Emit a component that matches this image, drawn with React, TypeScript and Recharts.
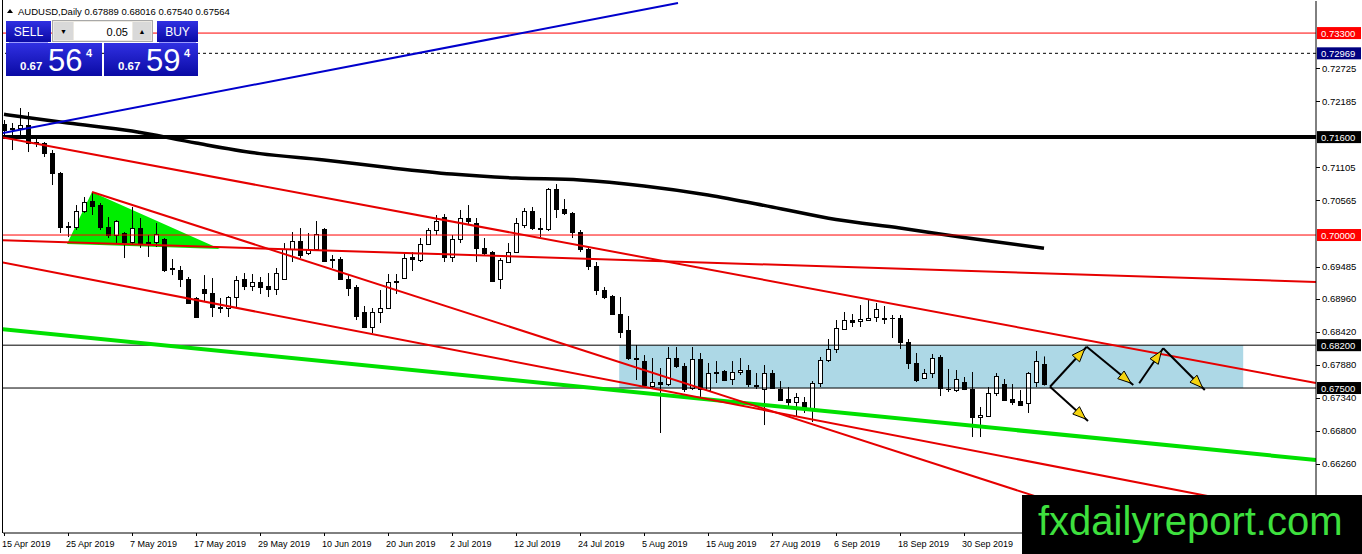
import React from 'react';
import { ComposedChart, XAxis, YAxis, Bar, Line, Area, ReferenceLine, ReferenceArea } from 'recharts';

// AUDUSD daily candles (bar 0 = 15 Apr 2019)
const opens = [
  0.71814, 0.71732, 0.71748, 0.71797, 0.71503, 0.71503, 0.71340, 0.71013, 0.70131, 0.70131,
  0.70392, 0.70556, 0.70490, 0.70131, 0.70000, 0.70033, 0.69886, 0.70114, 0.69869, 0.69886,
  0.69935, 0.69445, 0.69428, 0.69281, 0.68971, 0.69118, 0.69052, 0.68824, 0.68807, 0.68987,
  0.69281, 0.69167, 0.69232, 0.69167, 0.69118, 0.69281, 0.69771, 0.69902, 0.69706, 0.69771,
  0.70098, 0.69608, 0.69608, 0.69281, 0.69150, 0.68742, 0.68497, 0.68742, 0.68807, 0.69248,
  0.69297, 0.69641, 0.69592, 0.69853, 0.70082, 0.70294, 0.69641, 0.69935, 0.70278, 0.70196,
  0.69788, 0.69722, 0.69281, 0.69559, 0.69722, 0.70163, 0.70392, 0.70114, 0.70098, 0.70752,
  0.70425, 0.70360, 0.70049, 0.69771, 0.69494, 0.69101, 0.69003, 0.68709, 0.68448, 0.67990,
  0.67941, 0.67533, 0.67598, 0.67565, 0.67990, 0.67860, 0.67500, 0.67974, 0.67467, 0.67762,
  0.67778, 0.67647, 0.67762, 0.67794, 0.67549, 0.67484, 0.67745, 0.67484, 0.67320, 0.67271,
  0.67271, 0.67157, 0.67582, 0.67958, 0.68137, 0.68464, 0.68611, 0.68595, 0.68611, 0.68660,
  0.68644, 0.68644, 0.68644, 0.68252, 0.67909, 0.67663, 0.67745, 0.68007, 0.67484, 0.67467,
  0.67598, 0.67484, 0.67026, 0.67043, 0.67418, 0.67565, 0.67320, 0.67288, 0.67255, 0.67598,
  0.67889,
];
const highs = [
  0.71879, 0.71830, 0.72075, 0.72010, 0.71585, 0.71520, 0.71389, 0.71030, 0.70213, 0.70490,
  0.70621, 0.70686, 0.70523, 0.70294, 0.70245, 0.70049, 0.70458, 0.70278, 0.70000, 0.70196,
  0.69951, 0.69608, 0.69494, 0.69314, 0.68987, 0.69346, 0.69297, 0.68971, 0.69003, 0.69330,
  0.69379, 0.69363, 0.69314, 0.69379, 0.69461, 0.69869, 0.70049, 0.70114, 0.70033, 0.70229,
  0.70114, 0.69673, 0.69641, 0.69346, 0.69183, 0.68840, 0.68807, 0.69101, 0.69363, 0.69363,
  0.69690, 0.69722, 0.69951, 0.70114, 0.70327, 0.70343, 0.70000, 0.70409, 0.70490, 0.70278,
  0.69951, 0.69739, 0.69624, 0.69869, 0.70278, 0.70441, 0.70458, 0.70278, 0.70768, 0.70833,
  0.70588, 0.70376, 0.70082, 0.69804, 0.69559, 0.69150, 0.69020, 0.68987, 0.68677, 0.68203,
  0.68039, 0.67990, 0.67827, 0.68170, 0.68170, 0.67909, 0.68170, 0.68072, 0.67909, 0.67941,
  0.67794, 0.67941, 0.67990, 0.67876, 0.67745, 0.67876, 0.67794, 0.67614, 0.67516, 0.67418,
  0.67353, 0.67614, 0.68007, 0.68301, 0.68611, 0.68742, 0.68709, 0.68856, 0.68938, 0.68889,
  0.68840, 0.68693, 0.68693, 0.68301, 0.68072, 0.67811, 0.68056, 0.68039, 0.67811, 0.67794,
  0.67680, 0.67762, 0.67190, 0.67516, 0.67745, 0.67647, 0.67565, 0.67467, 0.67762, 0.68105,
  0.68016,
];
const lows = [
  0.71634, 0.71389, 0.71585, 0.71356, 0.71438, 0.71275, 0.70817, 0.70033, 0.69967, 0.70082,
  0.70360, 0.70327, 0.70082, 0.69951, 0.69869, 0.69624, 0.69837, 0.69788, 0.69641, 0.69804,
  0.69396, 0.69346, 0.69150, 0.68873, 0.68644, 0.68905, 0.68660, 0.68726, 0.68660, 0.68824,
  0.69101, 0.69085, 0.69036, 0.68987, 0.69020, 0.69265, 0.69559, 0.69624, 0.69673, 0.69755,
  0.69559, 0.69461, 0.69265, 0.69003, 0.68611, 0.68480, 0.68399, 0.68562, 0.68791, 0.69036,
  0.69281, 0.69412, 0.69559, 0.69837, 0.70000, 0.69559, 0.69559, 0.69869, 0.70163, 0.69559,
  0.69673, 0.69232, 0.69118, 0.69543, 0.69706, 0.70114, 0.70082, 0.69967, 0.70065, 0.70278,
  0.70327, 0.69951, 0.69722, 0.69428, 0.69020, 0.68954, 0.68693, 0.68317, 0.67958, 0.67631,
  0.67533, 0.67500, 0.66765, 0.67533, 0.67827, 0.67435, 0.67467, 0.67353, 0.67451, 0.67582,
  0.67614, 0.67549, 0.67712, 0.67516, 0.67484, 0.66895, 0.67484, 0.67288, 0.67206, 0.67043,
  0.67092, 0.66945, 0.67516, 0.67925, 0.68072, 0.68448, 0.68497, 0.68497, 0.68595, 0.68579,
  0.68546, 0.68317, 0.68137, 0.67811, 0.67598, 0.67647, 0.67663, 0.67369, 0.67435, 0.67435,
  0.67467, 0.66699, 0.66699, 0.67026, 0.67369, 0.67288, 0.67222, 0.67206, 0.67092, 0.67516,
  0.67540,
];
const closes = [
  0.71716, 0.71748, 0.71797, 0.71503, 0.71520, 0.71340, 0.71013, 0.70131, 0.70147, 0.70392,
  0.70539, 0.70474, 0.70131, 0.70000, 0.70229, 0.69886, 0.70114, 0.69869, 0.69886, 0.70016,
  0.69428, 0.69461, 0.69281, 0.68889, 0.68660, 0.69052, 0.68824, 0.68807, 0.68987, 0.69265,
  0.69167, 0.69232, 0.69150, 0.69118, 0.69379, 0.69771, 0.69902, 0.69673, 0.69771, 0.70016,
  0.69575, 0.69592, 0.69281, 0.69134, 0.68677, 0.68497, 0.68742, 0.68807, 0.69232, 0.69232,
  0.69624, 0.69608, 0.69853, 0.70082, 0.70229, 0.69641, 0.69935, 0.70278, 0.70229, 0.69788,
  0.69706, 0.69248, 0.69592, 0.69722, 0.70196, 0.70392, 0.70114, 0.70098, 0.70752, 0.70425,
  0.70360, 0.70049, 0.69771, 0.69494, 0.69101, 0.68987, 0.68709, 0.68415, 0.67990, 0.67974,
  0.67549, 0.67598, 0.67565, 0.67990, 0.67860, 0.67484, 0.67974, 0.67484, 0.67745, 0.67745,
  0.67631, 0.67762, 0.67794, 0.67565, 0.67541, 0.67745, 0.67500, 0.67304, 0.67271, 0.67353,
  0.67190, 0.67582, 0.67958, 0.68137, 0.68480, 0.68611, 0.68579, 0.68628, 0.68644, 0.68791,
  0.68628, 0.68636, 0.68252, 0.67909, 0.67631, 0.67745, 0.67990, 0.67500, 0.67476, 0.67647,
  0.67484, 0.67026, 0.67059, 0.67418, 0.67696, 0.67304, 0.67271, 0.67222, 0.67745, 0.67941,
  0.67564,
];

// 200-period moving average, sampled at these bars
const maIdx = [0, 8, 16, 24, 32, 40, 48, 56, 64, 72, 80, 88, 96, 104, 112, 120, 130];
const maVals = [
  0.71972, 0.71830, 0.71699, 0.71503, 0.71330, 0.71226, 0.71103, 0.70997, 0.70931,
  0.70899, 0.70801, 0.70654, 0.70458, 0.70253, 0.70114, 0.69959, 0.69783,
];

const dateTickIdx = [0, 8, 16, 24, 32, 40, 48, 56, 64, 72, 80, 88, 96, 104, 112, 120];
const dateLabels = [
  '15 Apr 2019', '25 Apr 2019', '7 May 2019', '17 May 2019', '29 May 2019', '10 Jun 2019',
  '20 Jun 2019', '2 Jul 2019', '12 Jul 2019', '24 Jul 2019', '5 Aug 2019', '15 Aug 2019',
  '27 Aug 2019', '6 Sep 2019', '18 Sep 2019', '30 Sep 2019',
];

const priceTicks = [0.72725, 0.72185, 0.71105, 0.70565, 0.69485, 0.6896, 0.6842, 0.6788, 0.6734, 0.668, 0.6626];
const levelPrices = [0.733, 0.72969, 0.716, 0.7, 0.682, 0.675];

// drawn objects, endpoints as [bar index, price]
const channelUpper = [[-0.5, 0.71601], [164, 0.67582]];
const channelFlat = [[-0.5, 0.69918], [164, 0.69232]];
const channelLower = [[-0.5, 0.69559], [164, 0.65392]];
const steepLine = [[11, 0.70703], [137, 0.65392]];
const greenLine = [[-0.5, 0.68464], [164, 0.66324]];
const blueLine = [[-0.125, 0.71667], [84.25, 0.73791]];
const triangle = [[7.875, 0.69853, 0.69853], [11, 0.6984, 0.70703], [27, 0.69771, 0.69771]];
const rangeBox = { x1: 76.9, x2: 154.9, y1: 0.675, y2: 0.682 };
const arrows = [
  [[130.75, 0.6752], [135.34, 0.68175]],
  [[135.34, 0.68175], [141.16, 0.67549]],
  [[141.9, 0.67577], [144.9, 0.68149]],
  [[144.9, 0.68149], [150.1, 0.67467]],
  [[130.75, 0.6752], [135.5, 0.6696]],
];

const candles = opens.map((o, i) => ({ i, o, h: highs[i], l: lows[i], c: closes[i] }));
const maRows = maIdx.map((i, k) => ({ i, ma: maVals[k] }));
const triRows = triangle.map(([i, lo, hi]) => ({ i, tri: [lo, hi] }));

const levelColor: Record<string, string> = {
  '0.73300': '#ff0000',
  '0.72969': '#000080',
  '0.71600': '#000000',
  '0.70000': '#ff0000',
  '0.68200': '#000000',
  '0.67500': '#000000',
};

const FONT = '"Liberation Sans", Arial, sans-serif';

const seg = (s: number[][]) => [{ x: s[0][0], y: s[0][1] }, { x: s[1][0], y: s[1][1] }];

const Candle = (props: any) => {
  const { x, y, width, height, payload } = props;
  if (!payload || x == null) return null;
  const top = Math.min(y, y + height);
  const bot = Math.max(y, y + height);
  const { o, h, l, c } = payload;
  const py = (p: number) => (h === l ? top : top + ((h - p) / (h - l)) * (bot - top));
  const cx = Math.round(x + width / 2);
  const yo = py(o);
  const yc = py(c);
  const bTop = Math.round(Math.min(yo, yc));
  const bBot = Math.round(Math.max(yo, yc));
  const wick = <line x1={cx + 0.5} x2={cx + 0.5} y1={top} y2={bot} stroke="#000" strokeWidth={1} />;
  if (bBot - bTop < 1) {
    return (
      <g>
        {wick}
        <line x1={cx - 2} x2={cx + 3} y1={bTop + 0.5} y2={bTop + 0.5} stroke="#000" />
      </g>
    );
  }
  if (c >= o) {
    return (
      <g>
        {wick}
        <rect x={cx - 1.5} y={bTop + 0.5} width={4} height={bBot - bTop} fill="#fff" stroke="#000" strokeWidth={1} />
      </g>
    );
  }
  return (
    <g>
      {wick}
      <rect x={cx - 2} y={bTop} width={5} height={bBot - bTop + 1} fill="#000" />
    </g>
  );
};

const ArrowShape = (props: any) => {
  const { x1, y1, x2, y2 } = props;
  if (x1 == null) return null;
  const a = Math.atan2(y2 - y1, x2 - x1);
  const cos = Math.cos(a);
  const sin = Math.sin(a);
  const tx = x2 - 3 * cos;
  const ty = y2 - 3 * sin;
  const bx = tx - 13 * cos;
  const by = ty - 13 * sin;
  const pts = `${tx},${ty} ${bx + 5 * sin},${by - 5 * cos} ${bx - 5 * sin},${by + 5 * cos}`;
  return (
    <g>
      <line x1={x1} y1={y1} x2={x2} y2={y2} stroke="#000" strokeWidth={2} />
      <polygon points={pts} fill="#f5d40f" stroke="#000" strokeWidth={1} />
    </g>
  );
};

const PriceTick = (props: any) => {
  const { x, y, payload } = props;
  const label = Number(payload.value).toFixed(5);
  const bg = levelColor[label];
  if (bg) {
    return (
      <g>
        <rect x={x + 1} y={y - 6} width={44} height={12} fill={bg} />
        <text x={x + 5} y={y + 3.5} fill="#fff" fontSize={9.5} fontFamily={FONT}>{label}</text>
      </g>
    );
  }
  return (
    <g>
      <line x1={x} x2={x + 4} y1={Math.round(y) + 0.5} y2={Math.round(y) + 0.5} stroke="#000" />
      <text x={x + 6} y={y + 3.5} fill="#000" fontSize={9.5} fontFamily={FONT}>{label}</text>
    </g>
  );
};

const DateTick = (props: any) => {
  const { x, y, payload } = props;
  const k = dateTickIdx.indexOf(payload.value);
  return (
    <g>
      <line x1={x + 0.5} x2={x + 0.5} y1={y} y2={y + 3} stroke="#000" />
      <text x={x - 2} y={y + 14} fill="#000" fontSize={9} fontFamily={FONT}>{dateLabels[k]}</text>
    </g>
  );
};

const Overlay = () => (
  <svg width={1362} height={554} style={{ position: 'absolute', left: 0, top: 0, pointerEvents: 'none' }}>
    <defs>
      <linearGradient id="btn" x1="0" y1="0" x2="0" y2="1">
        <stop offset="0%" stopColor="#3030e2" />
        <stop offset="100%" stopColor="#0a0aa4" />
      </linearGradient>
    </defs>
    <line x1={2.5} x2={2.5} y1={0} y2={533} stroke="#000" />
    <polygon points="7,13 10,9 13,13" fill="#000" />
    <text x={18} y={15} fontSize={9.5} fontFamily={FONT} fill="#000">
      AUDUSD,Daily  0.67889 0.68016 0.67540 0.67564
    </text>
    {/* one-click trading panel */}
    <rect x={6} y={21} width={45} height={21} fill="url(#btn)" />
    <text x={28.5} y={36} fontSize={12} fontFamily={FONT} fill="#fff" textAnchor="middle">SELL</text>
    <line x1={9} x2={48} y1={42.5} y2={42.5} stroke="#9c9cff" />
    <rect x={6} y={43} width={96} height={33} fill="url(#btn)" />
    <text x={20} y={70} fontSize={11.5} fontWeight="bold" fontFamily={FONT} fill="#fff">0.67</text>
    <text x={48} y={71} fontSize={31} fontFamily={FONT} fill="#fff">56</text>
    <text x={86} y={57} fontSize={11} fontWeight="bold" fontFamily={FONT} fill="#fff">4</text>
    <rect x={52.5} y={20.5} width={100} height={21} fill="#ece9e2" stroke="#a8a8a8" />
    <rect x={54} y={22} width={19} height={18} fill="#d9d9d9" />
    <text x={63.5} y={34} fontSize={7} fontFamily={FONT} fill="#000" textAnchor="middle">▼</text>
    <rect x={74} y={22} width={58} height={18} fill="#fff" />
    <text x={128} y={36} fontSize={11} fontFamily={FONT} fill="#000" textAnchor="end">0.05</text>
    <rect x={133} y={22} width={18} height={18} fill="#d9d9d9" />
    <text x={142} y={34} fontSize={7} fontFamily={FONT} fill="#000" textAnchor="middle">▲</text>
    <rect x={157} y={21} width={41} height={21} fill="url(#btn)" />
    <text x={177.5} y={36} fontSize={12} fontFamily={FONT} fill="#fff" textAnchor="middle">BUY</text>
    <line x1={159} x2={196} y1={42.5} y2={42.5} stroke="#9c9cff" />
    <rect x={104} y={43} width={94} height={33} fill="url(#btn)" />
    <text x={118} y={70} fontSize={11.5} fontWeight="bold" fontFamily={FONT} fill="#fff">0.67</text>
    <text x={146} y={71} fontSize={31} fontFamily={FONT} fill="#fff">59</text>
    <text x={184} y={57} fontSize={11} fontWeight="bold" fontFamily={FONT} fill="#fff">4</text>
    {/* watermark */}
    <rect x={1022} y={495} width={340} height={59} fill="#000" />
    <text x={1038} y={535} fontSize={40} fontFamily={FONT} fill="#3ee03e">fxdailyreport.com</text>
  </svg>
);

export default function App() {
  return (
    <div style={{ position: 'fixed', left: 0, top: 0, width: 1362, height: 554, background: '#fff' }}>
      <ComposedChart
        width={1362}
        height={554}
        data={candles}
        margin={{ top: 1, right: 0, bottom: 0, left: 3 }}
      >
        <XAxis
          dataKey="i"
          type="number"
          domain={[-0.125, 164]}
          allowDataOverflow
          ticks={dateTickIdx}
          interval={0}
          height={21}
          tickSize={0}
          tickMargin={0}
          tickLine={false}
          axisLine={{ stroke: '#000' }}
          tick={<DateTick />}
        />
        <YAxis
          orientation="right"
          type="number"
          domain={[0.65131, 0.73824]}
          allowDataOverflow
          ticks={[...priceTicks, ...levelPrices]}
          interval={0}
          width={46}
          tickSize={0}
          tickMargin={0}
          tickLine={false}
          axisLine={{ stroke: '#000' }}
          tick={<PriceTick />}
        />
        <ReferenceArea
          x1={rangeBox.x1}
          x2={rangeBox.x2}
          y1={rangeBox.y1}
          y2={rangeBox.y2}
          fill="#add8e6"
          fillOpacity={1}
          stroke="none"
          ifOverflow="hidden"
        />
        <Area
          data={triRows}
          dataKey="tri"
          type="linear"
          fill="#00ee00"
          fillOpacity={1}
          stroke="none"
          isAnimationActive={false}
          dot={false}
          activeDot={false}
        />
        <Bar
          dataKey={(d: any) => [d.l, d.h]}
          barSize={5}
          shape={<Candle />}
          isAnimationActive={false}
        />
        <Line
          data={maRows}
          dataKey="ma"
          type="monotone"
          stroke="#000"
          strokeWidth={3.5}
          dot={false}
          activeDot={false}
          isAnimationActive={false}
        />
        {levelPrices.map((p) => (
          <ReferenceLine
            key={p}
            y={p}
            ifOverflow="hidden"
            stroke={levelColor[p.toFixed(5)] === '#ff0000' ? '#ff0000' : '#000'}
            strokeWidth={p === 0.716 ? 4 : 1}
            strokeDasharray={p === 0.72969 ? '3 3' : undefined}
          />
        ))}
        <ReferenceLine segment={seg(blueLine)} stroke="#0000cc" strokeWidth={2} ifOverflow="hidden" />
        <ReferenceLine segment={seg(greenLine)} stroke="#00e000" strokeWidth={4} ifOverflow="hidden" />
        <ReferenceLine segment={seg(channelUpper)} stroke="#e60000" strokeWidth={2} ifOverflow="hidden" />
        <ReferenceLine segment={seg(channelFlat)} stroke="#e60000" strokeWidth={2} ifOverflow="hidden" />
        <ReferenceLine segment={seg(channelLower)} stroke="#e60000" strokeWidth={2} ifOverflow="hidden" />
        <ReferenceLine segment={seg(steepLine)} stroke="#e60000" strokeWidth={2} ifOverflow="hidden" />
        {arrows.map((a, k) => (
          <ReferenceLine key={k} segment={seg(a)} ifOverflow="hidden" shape={<ArrowShape />} />
        ))}
      </ComposedChart>
      <Overlay />
    </div>
  );
}
